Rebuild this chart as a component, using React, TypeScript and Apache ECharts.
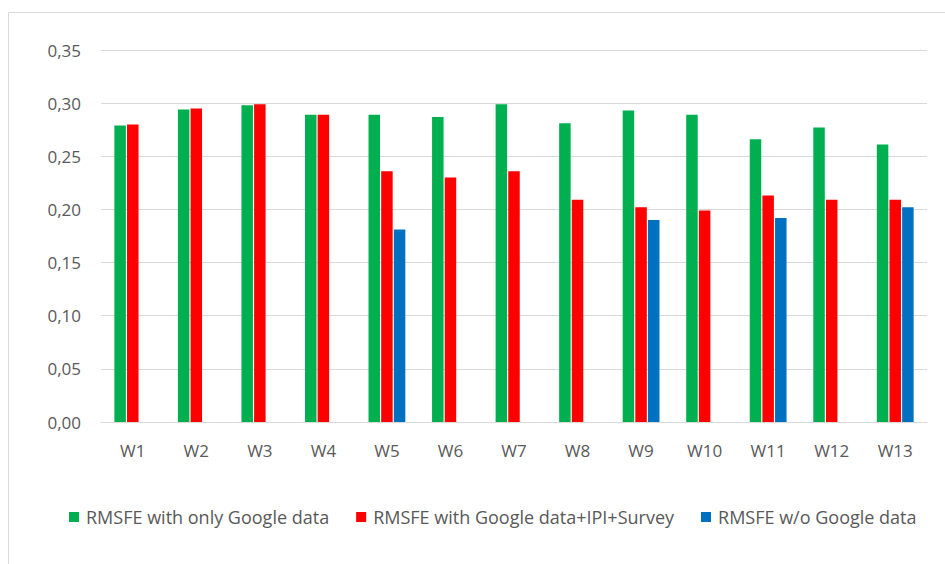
import React, { useEffect, useRef } from "react";
import * as echarts from "echarts";

const categories = ["W1", "W2", "W3", "W4", "W5", "W6", "W7", "W8", "W9", "W10", "W11", "W12", "W13"];
const onlyGoogle = [0.279, 0.294, 0.298, 0.289, 0.289, 0.287, 0.299, 0.281, 0.293, 0.289, 0.266, 0.277, 0.261];
const googleIpiSurvey = [0.280, 0.295, 0.299, 0.289, 0.236, 0.230, 0.236, 0.209, 0.202, 0.199, 0.213, 0.209, 0.209];
const withoutGoogle = [null, null, null, null, 0.181, null, null, null, 0.190, null, 0.192, null, 0.202];
const seriesNames = [
  "RMSFE with only Google data",
  "RMSFE with Google data+IPI+Survey",
  "RMSFE w/o Google data",
];
const colors = ["#00B050", "#FF0000", "#0070C0"];

export default function App() {
  const ref = useRef<HTMLDivElement>(null);
  useEffect(() => {
    if (!ref.current) return;
    const chart = echarts.init(ref.current, null, { renderer: "svg" });
    const font = "'Open Sans', sans-serif";
    const data = [onlyGoogle, googleIpiSurvey, withoutGoogle];
    chart.setOption({
      animation: false,
      backgroundColor: "#ffffff",
      textStyle: { fontFamily: font },
      graphic: [
        {
          type: "rect",
          shape: { x: 8.5, y: 12.5, width: 1000, height: 700 },
          style: { fill: "none", stroke: "#d9d9d9", lineWidth: 1 },
          silent: true,
        },
      ],
      grid: { left: 101, right: 18, top: 50, bottom: 142 },
      legend: {
        left: 64,
        top: 503,
        itemWidth: 10,
        itemHeight: 10,
        itemGap: 27,
        icon: "rect",
        textStyle: { fontSize: 18, color: "#595959", fontFamily: font, padding: [0, 0, 0, 2] },
        data: seriesNames,
      },
      xAxis: {
        type: "category",
        data: categories,
        axisLine: { show: true, lineStyle: { color: "#d9d9d9", width: 1 } },
        axisTick: { show: false },
        axisLabel: { color: "#595959", fontSize: 17, margin: 20, fontFamily: font },
      },
      yAxis: {
        type: "value",
        min: 0,
        max: 0.35,
        interval: 0.05,
        axisLine: { show: false },
        axisTick: { show: false },
        splitLine: { lineStyle: { color: "#d9d9d9", width: 1 } },
        axisLabel: {
          color: "#595959",
          fontSize: 17,
          margin: 20,
          fontFamily: font,
          formatter: (v: number) => v.toFixed(2).replace(".", ","),
        },
      },
      series: seriesNames.map((name, i) => ({
        name,
        type: "bar",
        data: data[i],
        barWidth: 11.5,
        barGap: "10%",
        itemStyle: { color: colors[i] },
      })),
    });
    return () => chart.dispose();
  }, []);
  return (
    <div
      ref={ref}
      style={{ position: "fixed", left: 0, top: 0, width: 945, height: 564 }}
    />
  );
}
